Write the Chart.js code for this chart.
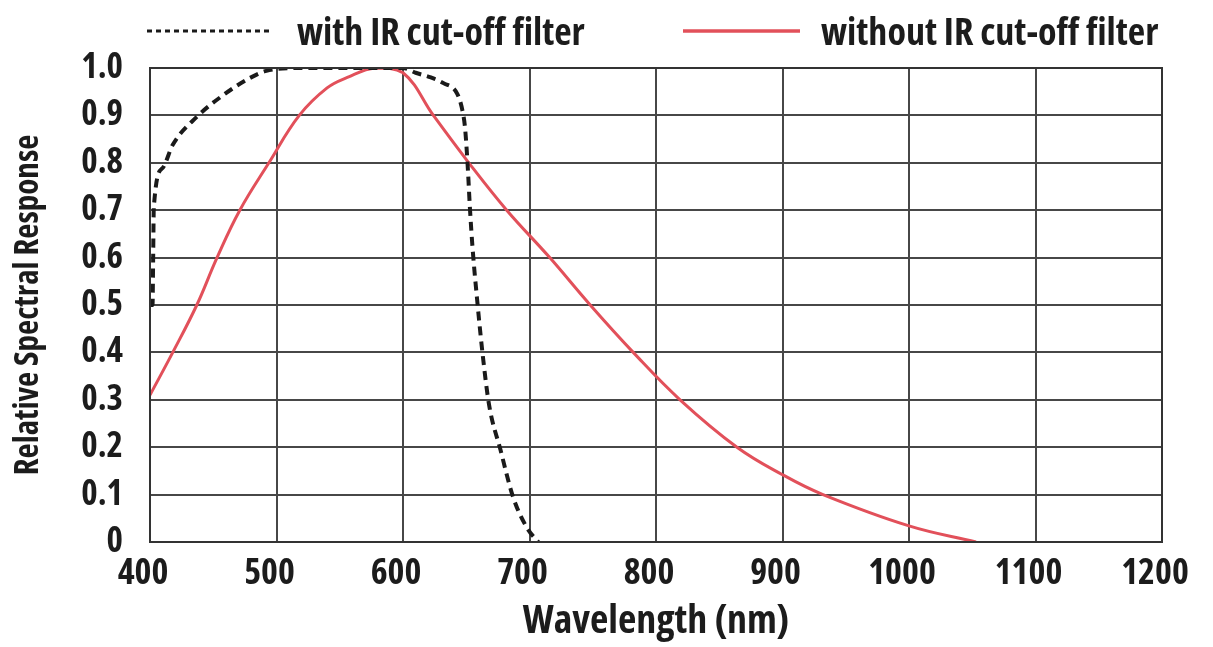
<!DOCTYPE html>
<html>
<head>
<meta charset="utf-8">
<script src="https://cdn.jsdelivr.net/npm/chart.js@4/dist/chart.umd.min.js"></script>
<style>
  html, body { margin: 0; padding: 0; background: #fff; }
  #wrap { width: 1213px; height: 647px; position: relative; }
</style>
</head>
<body>
<div id="wrap"><canvas id="spectrum"></canvas></div>
<script>
// wavelength (nm) / relative response
const withFilterNm = [400, 402, 402.5, 403, 410, 418, 437, 458, 479, 492, 520, 560, 600, 610, 622, 632, 643, 647, 649, 651, 653, 655, 659, 663, 668, 677, 687, 698, 707];
const withFilterResp = [0.5, 0.5, 0.6, 0.705, 0.789, 0.838, 0.897, 0.943, 0.979, 0.994, 1.0, 1.0, 1.0, 0.99, 0.98, 0.968, 0.945, 0.91, 0.875, 0.8, 0.7, 0.62, 0.5, 0.395, 0.29, 0.195, 0.095, 0.03, 0];

const withoutFilterNm = [400, 418, 437, 453, 471, 494, 518, 540, 556, 578, 600, 624, 652, 682, 716, 748, 782, 819, 864, 900, 932, 1000, 1053];
const withoutFilterResp = [0.31, 0.4, 0.5, 0.6, 0.7, 0.8, 0.9, 0.958, 0.98, 1.0, 0.99, 0.9, 0.8, 0.7, 0.6, 0.5, 0.4, 0.3, 0.2, 0.142, 0.1, 0.034, 0];

const seriesLabels = ['with IR cut-off filter', 'without IR cut-off filter'];
const xTicks = [400, 500, 600, 700, 800, 900, 1000, 1100, 1200];
const yTicks = [0, 0.1, 0.2, 0.3, 0.4, 0.5, 0.6, 0.7, 0.8, 0.9, 1.0];

const FONT = "'Open Sans', 'Roboto Condensed', sans-serif";
const WEIGHT = 'bold condensed';
const INK = '#1c1c1c';
const RED = '#e2505a';
const GRID = '#474747';

const toPoints = (xs, ys) => xs.map((x, i) => ({ x: x, y: ys[i] }));

// white background
const bgPlugin = {
  id: 'bg',
  beforeDraw(chart) {
    const ctx = chart.ctx;
    ctx.save();
    ctx.fillStyle = '#fff';
    ctx.fillRect(0, 0, chart.width, chart.height);
    ctx.restore();
  }
};

// legend above the plot, line sample + label for each dataset
const legendPlugin = {
  id: 'topLegend',
  afterDraw(chart) {
    const ctx = chart.ctx;
    const items = [
      { x1: 147, x2: 270, tx: 297, dash: [5, 4], w: 3 },
      { x1: 683, x2: 800, tx: 821, dash: [], w: 3.5 }
    ];
    ctx.save();
    chart.data.datasets.forEach((ds, i) => {
      const it = items[i];
      ctx.beginPath();
      ctx.strokeStyle = ds.borderColor;
      ctx.lineWidth = it.w;
      ctx.setLineDash(it.dash);
      ctx.moveTo(it.x1, 31);
      ctx.lineTo(it.x2, 31);
      ctx.stroke();
      ctx.setLineDash([]);
      ctx.fillStyle = INK;
      ctx.font = WEIGHT + ' 38px ' + FONT;
      ctx.textBaseline = 'alphabetic';
      ctx.textAlign = 'left';
      ctx.fillText(ds.label, it.tx, 45);
    });
    ctx.restore();
  }
};

// frame round the plot area
const framePlugin = {
  id: 'frame',
  afterDatasetsDraw(chart) {
    const a = chart.chartArea;
    const ctx = chart.ctx;
    ctx.save();
    ctx.strokeStyle = '#333';
    ctx.lineWidth = 2;
    ctx.strokeRect(a.left, a.top, a.right - a.left, a.bottom - a.top);
    ctx.restore();
  }
};

new Chart(document.getElementById('spectrum'), {
  type: 'line',
  data: {
    datasets: [
      {
        label: seriesLabels[0],
        data: toPoints(withFilterNm, withFilterResp),
        borderColor: '#1a1a1a',
        borderWidth: 4,
        borderDash: [9, 6],
        pointRadius: 0,
        cubicInterpolationMode: 'monotone',
        fill: false
      },
      {
        label: seriesLabels[1],
        data: toPoints(withoutFilterNm, withoutFilterResp),
        borderColor: RED,
        borderWidth: 3,
        pointRadius: 0,
        tension: 0.4,
        fill: false
      }
    ]
  },
  options: {
    responsive: true,
    maintainAspectRatio: false,
    animation: false,
    layout: { padding: { top: 68, right: 51, left: 0, bottom: 0 } },
    plugins: {
      legend: { display: false },
      tooltip: { enabled: false }
    },
    scales: {
      x: {
        type: 'linear',
        min: 400,
        max: 1200,
        afterBuildTicks: (s) => { s.ticks = xTicks.map(v => ({ value: v })); },
        afterFit: (s) => { s.height = 105; },
        grid: { color: GRID, lineWidth: 2, drawTicks: false },
        border: { display: false },
        ticks: {
          color: INK,
          padding: 10,
          labelOffset: -7,
          maxRotation: 0,
          font: { family: FONT, size: 36, weight: WEIGHT },
          callback: (v) => String(v)
        },
        title: {
          display: true,
          text: 'Wavelength (nm)',
          color: INK,
          padding: { top: 0, bottom: 1 },
          font: { family: FONT, size: 40, weight: WEIGHT }
        }
      },
      y: {
        min: 0,
        max: 1,
        afterBuildTicks: (s) => { s.ticks = yTicks.map(v => ({ value: v })); },
        afterFit: (s) => { s.width = 150; },
        grid: { color: GRID, lineWidth: 2, drawTicks: false },
        border: { display: false },
        ticks: {
          color: INK,
          padding: 27,
          font: { family: FONT, size: 35, weight: WEIGHT },
          callback: (v) => v === 0 ? '0' : v.toFixed(1)
        },
        title: {
          display: true,
          text: 'Relative Spectral Response',
          color: INK,
          padding: { top: 9, bottom: 0 },
          font: { family: FONT, size: 33, weight: WEIGHT }
        }
      }
    }
  },
  plugins: [bgPlugin, legendPlugin, framePlugin]
});
</script>
</body>
</html>
